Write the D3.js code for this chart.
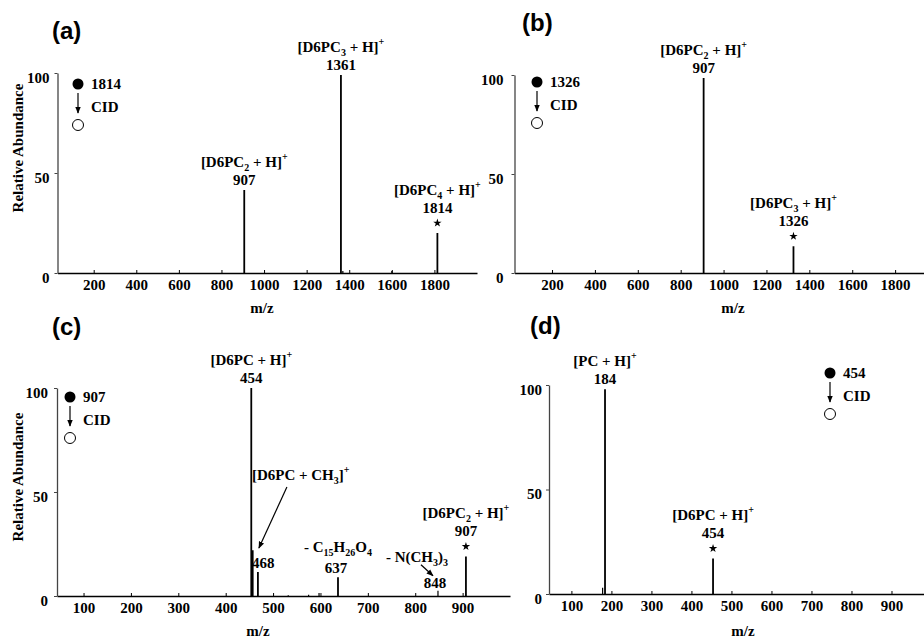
<!DOCTYPE html>
<html>
<head>
<meta charset="utf-8">
<script src="https://cdn.jsdelivr.net/npm/d3@7"></script>
<style>
  body { margin: 0; background: #fff; }
  svg { display: block; font-family: "Liberation Serif", "Times New Roman", serif; font-weight: bold; }
</style>
</head>
<body>
<svg id="chart" width="924" height="640"></svg>
<script>
// peaks as [m/z, relative abundance %]
var peaksA = [[907, 41.5], [1361, 99], [1370, 1], [1600, 1], [1814, 20]];
var peaksB = [[907, 98.5], [1326, 13.5]];
var peaksC = [[454, 100], [457, 22], [468, 11.5], [532, 0.4], [575, 0.6], [597, 1.5], [637, 9], [848, 2.5], [907, 19]];
var peaksD = [[178, 3], [184, 98], [454, 17]];

var ticksAB = [200, 400, 600, 800, 1000, 1200, 1400, 1600, 1800];
var ticksCD = [100, 200, 300, 400, 500, 600, 700, 800, 900];
var ticksY = [0, 50, 100];

var precursors = ["1814", "1326", "907", "454"];
var panelTags = ["(a)", "(b)", "(c)", "(d)"];

// labelled peaks: m/z, ion name (_ = subscript, ^ = superscript), star = precursor
var labelsA = [
  {mz: 907, name: "[D6PC_2 + H]^+", star: false},
  {mz: 1361, name: "[D6PC_3 + H]^+", star: false},
  {mz: 1814, name: "[D6PC_4 + H]^+", star: true}
];
var labelsB = [
  {mz: 907, name: "[D6PC_2 + H]^+", star: false},
  {mz: 1326, name: "[D6PC_3 + H]^+", star: true}
];
var labelsC = [
  {mz: 454, name: "[D6PC + H]^+", star: false},
  {mz: 907, name: "[D6PC_2 + H]^+", star: true}
];
var labelsD = [
  {mz: 184, name: "[PC + H]^+", star: false},
  {mz: 454, name: "[D6PC + H]^+", star: true}
];

var svg = d3.select("#chart");

// arrowhead
svg.append("defs").append("marker")
  .attr("id", "ah").attr("viewBox", "0 0 10 10").attr("refX", 9).attr("refY", 5)
  .attr("markerWidth", 7).attr("markerHeight", 7).attr("orient", "auto-start-reverse")
  .attr("markerUnits", "userSpaceOnUse")
  .append("path").attr("d", "M0,1 L10,5 L0,9 Z").attr("fill", "#000");

function richText(sel, x, y, str, anchor) {
  var t = sel.append("text").attr("x", x).attr("y", y)
    .attr("text-anchor", anchor || "middle").attr("font-size", 15);
  var parts = str.split(/([_^](?:\d+|\+))/).filter(function(s) { return s.length; });
  var shift = 0;
  parts.forEach(function(p) {
    var target = 0, size = 15;
    if (p[0] === "_") { target = 4; size = 10; p = p.slice(1); }
    else if (p[0] === "^") { target = -7; size = 10; p = p.slice(1); }
    t.append("tspan").attr("dy", target - shift).attr("font-size", size).text(p);
    shift = target;
  });
  return t;
}

var panels = [
  {peaks: peaksA, labels: labelsA, ticks: ticksAB, domain: [30, 2000], xr: [57.5, 477], yr: [273, 73],
   ypad: 5, tagPos: [52, 39], legend: [78, 84], mz: [262, 313], yTitle: [23, 148]},
  {peaks: peaksB, labels: labelsB, ticks: ticksAB, domain: [25, 2000], xr: [514.5, 938], yr: [273, 75],
   ypad: 8, tagPos: [522, 31], legend: [537, 82], mz: [733, 313]},
  {peaks: peaksC, labels: labelsC, ticks: ticksCD, domain: [44, 1000], xr: [57, 510], yr: [596, 388],
   ypad: 6, tagPos: [52, 335], legend: [70, 397], mz: [258, 636], yTitle: [23, 477]},
  {peaks: peaksD, labels: labelsD, ticks: ticksCD, domain: [44, 1000], xr: [549, 931.5], yr: [594, 385],
   ypad: 4, tagPos: [530, 334], legend: [830, 373], mz: [743, 636]}
];

panels.forEach(function(p, i) {
  var g = svg.append("g");
  var x = d3.scaleLinear().domain(p.domain).range(p.xr);
  var y = d3.scaleLinear().domain([0, 100]).range(p.yr);
  p.x = x; p.y = y; p.g = g;

  // spectrum sticks
  g.selectAll("line.pk").data(p.peaks).join("line")
    .attr("class", "pk")
    .attr("x1", function(d) { return x(d[0]); }).attr("x2", function(d) { return x(d[0]); })
    .attr("y1", y(0)).attr("y2", function(d) { return y(d[1]); })
    .attr("stroke", "#000").attr("stroke-width", function(d) { return d[1] > 5 ? 1.8 : 1.2; });

  // x axis
  var xa = g.append("g").attr("transform", "translate(0," + y(0) + ")")
    .call(d3.axisBottom(x).tickValues(p.ticks).tickFormat(d3.format("d"))
      .tickSizeInner(-3).tickSizeOuter(0).tickPadding(6));
  xa.attr("font-family", null).attr("font-size", null);
  xa.select(".domain").attr("stroke", "#000").attr("stroke-width", 1.6);
  xa.selectAll(".tick line").attr("stroke", "#000");
  xa.selectAll("text").attr("font-size", 15).attr("fill", "#000");

  // y axis
  var ya = g.append("g").attr("transform", "translate(" + p.xr[0] + ",0)")
    .call(d3.axisLeft(y).tickValues(ticksY).tickSizeInner(3).tickSizeOuter(0).tickPadding(p.ypad));
  ya.attr("font-family", null).attr("font-size", null);
  ya.select(".domain").attr("stroke", "#444").attr("stroke-width", 1.3);
  ya.selectAll(".tick line").attr("stroke", "#444");
  ya.selectAll("text").attr("font-size", 15).attr("fill", "#000").attr("dy", "0.6em");

  // panel tag
  g.append("text").attr("x", p.tagPos[0]).attr("y", p.tagPos[1])
    .attr("font-family", "'Liberation Sans', Arial, sans-serif").attr("font-size", 24)
    .text(panelTags[i]);

  // axis titles
  g.append("text").attr("x", p.mz[0]).attr("y", p.mz[1]).attr("text-anchor", "middle")
    .attr("font-size", 15).text("m/z");
  if (p.yTitle) {
    g.append("text").attr("transform", "translate(" + p.yTitle[0] + "," + p.yTitle[1] + ") rotate(-90)")
      .attr("text-anchor", "middle").attr("font-size", 15).text("Relative Abundance");
  }

  // precursor legend
  var lx = p.legend[0], ly = p.legend[1];
  g.append("circle").attr("cx", lx).attr("cy", ly).attr("r", 5.5).attr("fill", "#000");
  g.append("text").attr("x", lx + 13).attr("y", ly + 5).attr("font-size", 15).text(precursors[i]);
  g.append("line").attr("x1", lx).attr("x2", lx).attr("y1", ly + 9).attr("y2", ly + 29)
    .attr("stroke", "#000").attr("stroke-width", 1.2).attr("marker-end", "url(#ah)");
  g.append("text").attr("x", lx + 13).attr("y", ly + 28).attr("font-size", 15).text("CID");
  g.append("circle").attr("cx", lx).attr("cy", ly + 41).attr("r", 5.5)
    .attr("fill", "#fff").attr("stroke", "#000").attr("stroke-width", 1);

  // peak annotations
  p.labels.forEach(function(l) {
    var pk = p.peaks.find(function(d) { return d[0] === l.mz; });
    var px = x(l.mz), top = y(pk[1]);
    var numBase = l.star ? top - 20 : top - 5;
    if (l.star) {
      g.append("path").attr("d", d3.symbol().type(d3.symbolStar).size(22)())
        .attr("transform", "translate(" + px + "," + (top - 10) + ")").attr("fill", "#000");
    }
    g.append("text").attr("x", px).attr("y", numBase).attr("text-anchor", "middle")
      .attr("font-size", 15).text(String(l.mz));
    richText(g, px, numBase - 18, l.name, "middle");
  });
});

// extra annotations in panel (c)
var pc = panels[2];
var x468 = pc.x(468), top468 = pc.y(peaksC[2][1]);
richText(pc.g, x468 - 6, 480, "[D6PC + CH_3]^+", "start");
pc.g.append("line").attr("x1", x468 + 29).attr("y1", 487).attr("x2", x468 + 1).attr("y2", 548)
  .attr("stroke", "#000").attr("stroke-width", 1.2).attr("marker-end", "url(#ah)");
pc.g.append("text").attr("x", x468 - 6).attr("y", top468 - 4).attr("font-size", 15).text("468");

var x637 = pc.x(637), top637 = pc.y(peaksC[6][1]);
richText(pc.g, x637, top637 - 25, "- C_15H_26O_4", "middle");
pc.g.append("text").attr("x", x637 - 2).attr("y", top637 - 4).attr("text-anchor", "middle")
  .attr("font-size", 15).text("637");

var x848 = pc.x(848), top848 = pc.y(peaksC[7][1]);
richText(pc.g, x848 - 21, top848 - 29, "- N(CH_3)_3", "middle");
pc.g.append("line").attr("x1", x848 - 17).attr("y1", top848 - 26).attr("x2", x848 - 5).attr("y2", top848 - 15)
  .attr("stroke", "#000").attr("stroke-width", 1.2).attr("marker-end", "url(#ah)");
pc.g.append("text").attr("x", x848 - 3).attr("y", top848 - 3).attr("text-anchor", "middle")
  .attr("font-size", 15).text("848");
</script>
</body>
</html>
